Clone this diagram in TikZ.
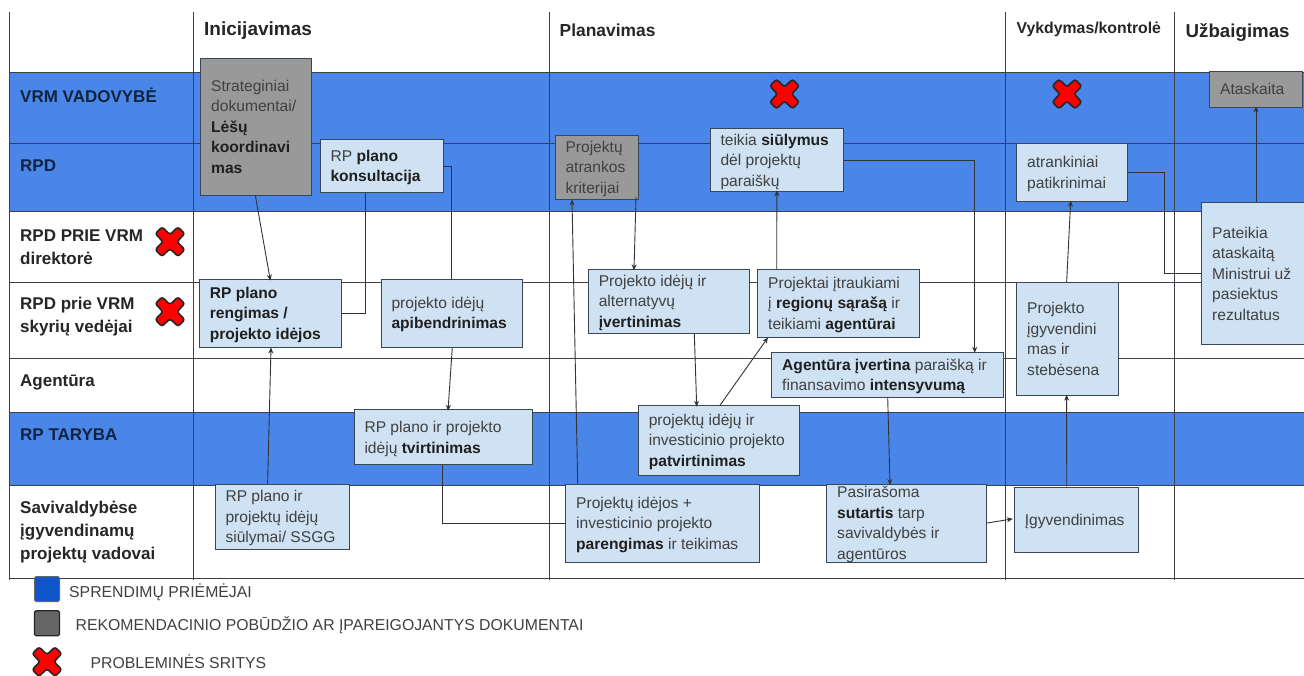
\documentclass[tikz,border=0pt]{standalone}
\usepackage{fontspec}
\setmainfont{Liberation Sans}
\usetikzlibrary{arrows.meta}
\definecolor{bandblue}{HTML}{4A86E8}
\definecolor{boxblue}{HTML}{CFE2F3}
\definecolor{boxgray}{HTML}{999999}
\definecolor{edgedark}{HTML}{3A4654}
\definecolor{gridline}{HTML}{3C4048}
\definecolor{txtgray}{HTML}{404040}
\definecolor{navy}{HTML}{0F2440}
\definecolor{legblue}{HTML}{1155CC}
\definecolor{leggray}{HTML}{666666}
\newcommand{\bt}[1]{\textbf{\color{black!88}#1}}
\tikzset{
  x=1pt,y=-1pt,
  boxbase/.style={draw=edgedark,line width=0.9pt,inner sep=0pt,text=txtgray},
  lightbox/.style={boxbase,fill=boxblue},
  graybox/.style={boxbase,fill=boxgray},
  conn/.style={draw=black!80,line width=0.9pt},
  arr/.style={conn,-{Stealth[length=6pt,width=5pt]}},
  grid line/.style={draw=gridline,line width=0.9pt},
  rowlabel/.style={anchor=west,align=left,inner sep=0pt,font=\fontsize{17}{23}\selectfont\bfseries,text=black!85},
  bandlabel/.style={rowlabel,text=navy},
  header/.style={anchor=west,inner sep=0pt,text=black!85},
  legtext/.style={anchor=west,inner sep=0pt,font=\fontsize{15.8}{18}\selectfont,text=black!75},
  xmark/.pic={\draw[fill=red,draw=black!85,line width=1.6pt,rounded corners=2.5pt]
    (-8,-14.8)--(0,-7)--(8,-14.8)--(14.8,-8)--(7,0)--(14.8,8)--(8,14.8)--(0,7)--(-8,14.8)--(-14.8,8)--(-7,0)--(-14.8,-8)--cycle;}
}
% \bx[style]{name}{cx}{cy}{w}{h}{text}
\newcommand{\bx}[7][lightbox]{%
  \node[#1,minimum width=#5pt,minimum height=#6pt] (#2) at (#3,#4)
   {\parbox[c][\dimexpr#6pt-6pt\relax][c]{\dimexpr#5pt-21pt\relax}{\vspace*{3pt}\raggedright\fontsize{15.6}{20.5}\selectfont\strut #7\strut}};}
\begin{document}
\begin{tikzpicture}
\useasboundingbox (0,0) rectangle (1304,675);
\fill[white] (0,0) rectangle (1304,675);
% bands
\fill[bandblue] (9,72) rectangle (1304,211.5);
\fill[bandblue] (9,412) rectangle (1304,485);
% grid
\foreach \yy in {72,143,211.5,282,358.7,412,485,578}{\draw[grid line] (9,\yy) -- (1304,\yy);}
\foreach \xx in {9.5,193.5,549,1005.5,1174}{\draw[grid line] (\xx,12) -- (\xx,580);}
% headers
\node[header,font=\fontsize{19}{22}\selectfont\bfseries] (h1) at (204,31) {Inicijavimas};
\node[header,font=\fontsize{17.4}{20}\selectfont\bfseries] (h2) at (559.5,30) {Planavimas};
\node[header,font=\fontsize{15.8}{18}\selectfont\bfseries] (h3) at (1016.5,29.5) {Vykdymas/kontrolė};
\node[header,font=\fontsize{18.7}{22}\selectfont\bfseries] (h4) at (1185.5,32) {Užbaigimas};
% row labels
\node[bandlabel] (r1) at (20,95) {VRM VADOVYBĖ};
\node[bandlabel] (r2) at (20,166) {RPD};
\node[rowlabel] (r3) at (20,247) {RPD PRIE VRM\\direktorė};
\node[rowlabel] (r4) at (20,317) {RPD prie VRM\\skyrių vedėjai};
\node[rowlabel] (r5) at (20,382) {Agentūra};
\node[bandlabel] (r6) at (20,435) {RP TARYBA};
\node[rowlabel] (r7) at (20,532) {Savivaldybėse\\įgyvendinamų\\projektų vadovai};
% boxes
\bx[graybox]{strat}{256.15}{126.85}{110.9}{136.3}{Strateginiai\\dokumentai/\\\bt{Lėšų}\\\bt{koordinavi}\\\bt{mas}}
\bx{kons}{381.5}{165.85}{123}{53.7}{RP \bt{plano}\\\bt{konsultacija}}
\bx{reng}{270.35}{313}{142.1}{68}{\bt{RP plano}\\\bt{rengimas /}\\\bt{projekto idėjos}}
\bx{apib}{451.9}{313}{141.8}{68}{projekto idėjų\\\bt{apibendrinimas}}
\bx{tvirt}{443.4}{437.2}{178.8}{55}{RP plano ir projekto\\idėjų \bt{tvirtinimas}}
\bx{siul}{282}{516.5}{134}{65}{RP plano ir\\projektų idėjų\\siūlymai/ SSGG}
\bx{par}{662.35}{523}{193.3}{78}{Projektų idėjos +\\investicinio projekto\\\bt{parengimas} ir teikimas}
\bx{pat}{718.8}{440.35}{161}{69.3}{projektų idėjų ir\\investicinio projekto\\\bt{patvirtinimas}}
\bx{agj}{887.5}{374.65}{231.6}{44.7}{\bt{Agentūra įvertina} paraišką ir\\finansavimo \bt{intensyvumą}}
\bx{pas}{906.7}{523}{160}{78}{Pasirašoma\\\bt{sutartis} tarp\\savivaldybės ir\\agentūros}
\bx{igy}{1076.15}{519.85}{123.7}{65.7}{Įgyvendinimas}
\bx[graybox]{atr}{596.85}{167}{83.7}{64}{Projektų\\atrankos\\kriterijai}
\bx{teik}{776.85}{160}{133.7}{62.6}{teikia \bt{siūlymus}\\dėl projektų\\paraiškų}
\bx{ive}{669}{301.3}{161.4}{64}{Projekto idėjų ir\\alternatyvų\\\bt{įvertinimas}}
\bx{itr}{838.35}{303.15}{161.3}{67.7}{Projektai įtraukiami\\į \bt{regionų sąrašą} ir\\teikiami \bt{agentūrai}}
\bx{atrk}{1072}{172.5}{110.6}{58.4}{atrankiniai\\patikrinimai}
\bx{pim}{1067.35}{339}{101.3}{113.4}{Projekto\\įgyvendini\\mas ir\\stebėsena}
\bx[graybox]{atask}{1256.2}{89.15}{93}{35.7}{Ataskaita}
\bx{pat2}{1253.85}{273.5}{104.3}{141.6}{Pateikia\\ataskaitą\\Ministrui už\\pasiektus\\rezultatus}
% connectors
\draw[arr] ([xshift=-0.8pt]strat.south) -- ([yshift=-2pt]reng.north);
\draw[conn] ([xshift=-15.9pt]kons.south) |- (reng.east);
\draw[conn] ([yshift=-0.85pt]kons.east) -| (apib.north);
\draw[arr] ([xshift=0.4pt]apib.south) -- ([xshift=4.6pt,yshift=-1.5pt]tvirt.north);
\draw[arr] ([xshift=-14.4pt]siul.north) -- ([xshift=0.65pt]reng.south);
\draw[conn] ([xshift=-0.7pt]tvirt.south) |- (par.west);
\draw[arr] ([xshift=-84.65pt]par.north) -- ([xshift=-24.85pt]atr.south);
\draw[arr] ([xshift=39.15pt,yshift=3pt]atr.south) -- ([xshift=-35pt,yshift=-1.5pt]ive.north);
\draw[arr] ([xshift=25.3pt]ive.south) -- ([xshift=-22.1pt,yshift=-1.5pt]pat.north);
\draw[arr] ([xshift=1.2pt]pat.north) -- ([xshift=-70.35pt]itr.south);
\draw[arr] ([xshift=-61.65pt]itr.north) -- ([yshift=1.5pt]teik.south);
\draw[arr] (teik.east) -| ([xshift=87.2pt,yshift=-1pt]agj.north);
\draw[arr] ([xshift=0.2pt]agj.south) -- ([xshift=-16.7pt,yshift=-1.5pt]pas.north);
\draw[arr] (pas.east) -- ([xshift=-1pt,yshift=1pt]igy.west);
\draw[arr] ([xshift=-9.45pt]igy.north) -- ([yshift=1.5pt,xshift=-0.7pt]pim.south);
\draw[arr] ([xshift=-0.7pt]pim.north) -- ([xshift=-1.3pt,yshift=1.5pt]atrk.south);
\draw[conn] (atrk.east) -- ++(37,0) |- (pat2.west);
\draw[arr] ([xshift=2.15pt]pat2.north) -- ([xshift=-0.2pt,yshift=1pt]atask.south);
% crosses
\pic at (170,241.7) {xmark};
\pic at (170,311.7) {xmark};
\pic at (784.5,94) {xmark};
\pic at (1067,94) {xmark};
\pic at (47,661.7) {xmark};
% legend
\node[draw=black!60,fill=legblue,line width=1pt,rounded corners=1.5pt,minimum size=25pt,inner sep=0pt] (lb) at (47,589) {};
\node[draw=black!85,fill=leggray,line width=1.2pt,rounded corners=1.5pt,minimum size=25pt,inner sep=0pt] (lg) at (47,623.3) {};
\node[legtext] (lt1) at (69,592) {SPRENDIMŲ PRIĖMĖJAI};
\node[legtext] (lt2) at (75.5,625.7) {REKOMENDACINIO POBŪDŽIO AR ĮPAREIGOJANTYS DOKUMENTAI};
\node[legtext] (lt3) at (90.5,661.7) {PROBLEMINĖS SRITYS};
\end{tikzpicture}
\end{document}
